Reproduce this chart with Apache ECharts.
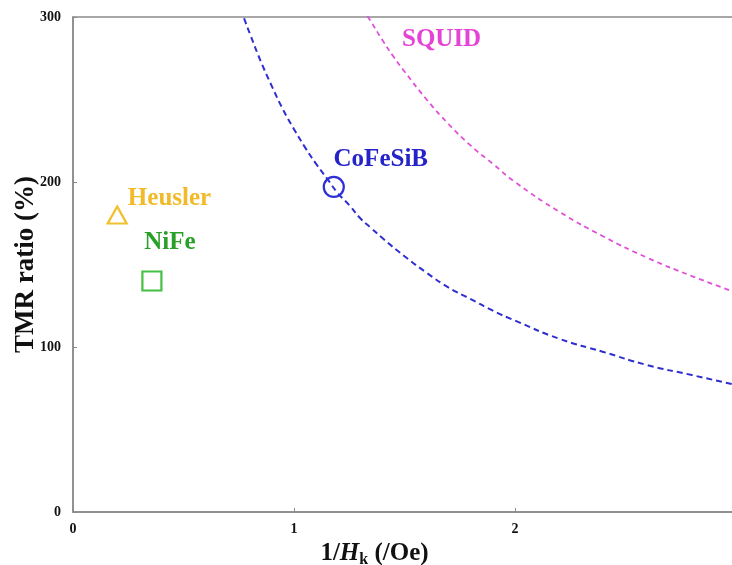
<!DOCTYPE html>
<html>
<head>
<meta charset="utf-8">
<script src="https://cdn.jsdelivr.net/npm/echarts@6/dist/echarts.min.js"></script>
<style>
  html, body { margin: 0; padding: 0; background: #fff; }
  #chart { width: 732px; height: 565px; }
</style>
</head>
<body>
<div id="chart"></div>
<script>
// Measured materials: [1/Hk (/Oe), TMR ratio (%)]
const heusler = [[0.20, 180]];
const nife = [[0.357, 140]];
const cofesib = [[1.18, 197]];

// Guide curves through the CoFeSiB point and the SQUID region
const cofesibCurve = [
  [0.76, 305], [0.78, 297], [0.8, 290], [0.85, 273], [0.9, 258], [0.95, 244],
  [1.0, 232], [1.05, 221], [1.1, 211], [1.15, 202], [1.2, 193], [1.25, 186],
  [1.3, 178], [1.35, 172], [1.4, 166], [1.5, 155], [1.6, 145], [1.7, 136],
  [1.8, 129], [1.9, 122], [2.0, 116], [2.2, 105], [2.4, 97], [2.6, 89],
  [2.8, 83], [3.0, 77]
];
const squidCurve = [
  [1.31, 305], [1.34, 299], [1.4, 286], [1.45, 276], [1.5, 267], [1.6, 250],
  [1.7, 235], [1.8, 222], [1.9, 211], [2.0, 200], [2.2, 182], [2.4, 167],
  [2.6, 154], [2.8, 143], [3.0, 133]
];

const xTicks = [0, 1, 2, 3];
const yTicks = [0, 100, 200, 300];

const serif = '"Liberation Serif", "DejaVu Serif", serif';
const axisGray = '#8a8a8a';

const chart = echarts.init(document.getElementById('chart'));

function markerLabel(text, color, pos, dx, dy) {
  return {
    show: true,
    formatter: text,
    position: pos,
    offset: [dx, dy],
    color: color,
    opacity: 1,
    fontFamily: serif,
    fontWeight: 'bold',
    fontSize: 25
  };
}

chart.setOption({
  animation: false,
  backgroundColor: '#ffffff',
  grid: {
    left: 73, top: 17, width: 663, height: 495,
    show: true, borderColor: axisGray, borderWidth: 1.5,
    containLabel: false,
    outerBoundsMode: 'none'
  },
  xAxis: {
    type: 'value',
    min: xTicks[0], max: xTicks[xTicks.length - 1], interval: 1,
    splitLine: { show: false },
    axisLine: { show: true, lineStyle: { color: axisGray, width: 1.5 } },
    axisTick: { show: true, inside: true, length: 4, lineStyle: { color: axisGray } },
    axisLabel: { color: '#111', fontFamily: serif, fontWeight: 'bold', fontSize: 14, margin: 10 },
    name: '{n|1/}{i|H}{s|k}{n| (/Oe)}',
    nameLocation: 'middle',
    nameGap: 26,
    nameTextStyle: {
      padding: [0, 60, 0, 0],
      rich: {
        n: { fontFamily: serif, fontWeight: 'bold', fontSize: 25, color: '#111' },
        i: { fontFamily: serif, fontWeight: 'bold', fontStyle: 'italic', fontSize: 25, color: '#111' },
        s: { fontFamily: serif, fontWeight: 'bold', fontSize: 16, color: '#111', verticalAlign: 'bottom', padding: [12, 0, 0, 0] }
      }
    }
  },
  yAxis: {
    type: 'value',
    min: yTicks[0], max: yTicks[yTicks.length - 1], interval: 100,
    splitLine: { show: false },
    axisLine: { show: true, lineStyle: { color: axisGray, width: 1.5 } },
    axisTick: { show: true, inside: true, length: 4, lineStyle: { color: axisGray } },
    axisLabel: { color: '#111', fontFamily: serif, fontWeight: 'bold', fontSize: 14, margin: 12 },
    name: 'TMR ratio (%)',
    nameLocation: 'middle',
    nameGap: 33,
    nameMoveOverlap: false,
    nameTextStyle: { fontFamily: serif, fontWeight: 'bold', fontSize: 27, color: '#111' }
  },
  series: [
    {
      name: 'CoFeSiB curve', type: 'line', data: cofesibCurve, smooth: true,
      showSymbol: false, clip: true, z: 2,
      lineStyle: { color: '#2f2fd0', width: 2, type: [6, 4] }
    },
    {
      name: 'SQUID curve', type: 'line', data: squidCurve, smooth: true,
      showSymbol: false, clip: true, z: 2,
      lineStyle: { color: '#e050d8', width: 1.8, type: [5, 4] }
    },
    {
      name: 'SQUID', type: 'scatter', data: [[1.466, 288]], symbolSize: 0,
      itemStyle: { opacity: 1 },
      label: markerLabel('SQUID', '#e444d6', 'right', 0, 3), z: 5
    },
    {
      name: 'Heusler', type: 'scatter', data: heusler,
      symbol: 'triangle', symbolSize: [19, 17],
      itemStyle: { color: 'rgba(0,0,0,0)', borderColor: '#f2c02c', borderWidth: 2.2, opacity: 1 },
      label: markerLabel('Heusler', '#f0ba28', 'right', -5, -16), z: 5
    },
    {
      name: 'NiFe', type: 'scatter', data: nife,
      symbol: 'rect', symbolSize: 19,
      itemStyle: { color: 'rgba(0,0,0,0)', borderColor: '#44c044', borderWidth: 2.2, opacity: 1 },
      label: markerLabel('NiFe', '#2aa02a', 'top', 18, -10), z: 5
    },
    {
      name: 'CoFeSiB', type: 'scatter', data: cofesib,
      symbol: 'circle', symbolSize: 20,
      itemStyle: { color: 'rgba(0,0,0,0)', borderColor: '#2f2fd8', borderWidth: 2.2, opacity: 1 },
      label: markerLabel('CoFeSiB', '#2424c8', 'top', 47, 1), z: 5
    }
  ]
});
</script>
</body>
</html>
